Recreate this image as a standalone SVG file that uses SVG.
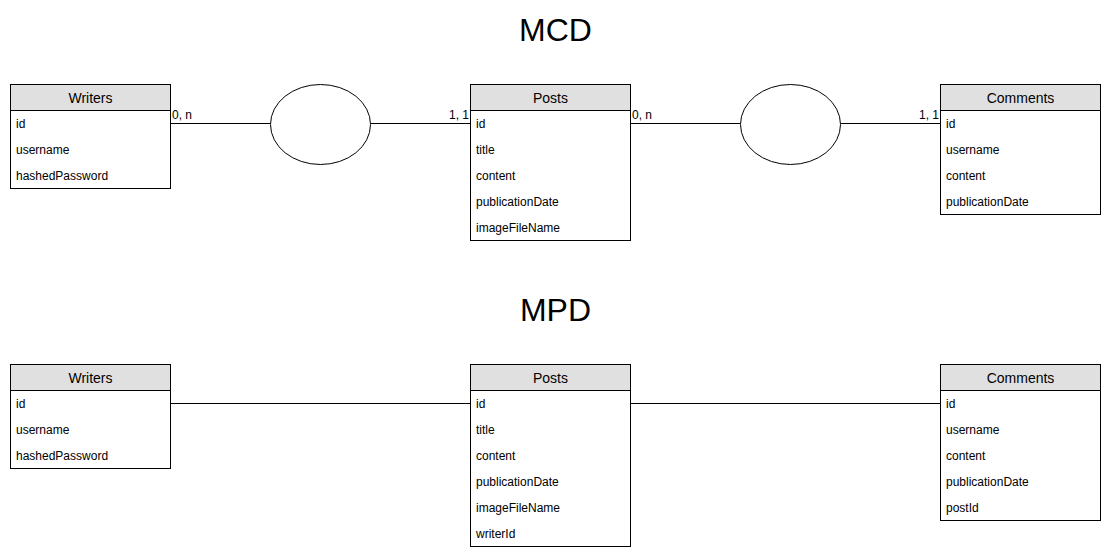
<svg xmlns="http://www.w3.org/2000/svg" width="1111" height="559" viewBox="0 0 1111 559">
<style>
.box{fill:#ffffff;stroke:#000000;stroke-width:1}
.hdr{fill:#e0e0e0;stroke:#000000;stroke-width:1}
.ht{font-family:"Liberation Sans",Arial,sans-serif;font-size:14px;text-anchor:middle;fill:#000}
.rt{font-family:"Liberation Sans",Arial,sans-serif;font-size:12px;fill:#000}
.lbl{font-family:"Liberation Sans",Arial,sans-serif;font-size:12px;fill:#000}
.title{font-family:"Liberation Sans",Arial,sans-serif;font-size:32px;text-anchor:middle;fill:#000}
.ln{stroke:#000;stroke-width:1;fill:none}
.ell{fill:#fff;stroke:#000;stroke-width:1}
</style>
<rect width="1111" height="559" fill="#ffffff"/>
<text class="title" x="555.5" y="41">MCD</text>
<text class="title" x="555.5" y="321">MPD</text>
<g id="connectors">
<line class="ln" x1="170.5" y1="123.5" x2="270.5" y2="123.5"/>
<line class="ln" x1="370.5" y1="123.5" x2="470.5" y2="123.5"/>
<line class="ln" x1="630.5" y1="123.5" x2="740.5" y2="123.5"/>
<line class="ln" x1="840.5" y1="123.5" x2="940.5" y2="123.5"/>
<text class="lbl" x="172" y="119">0, n</text>
<text class="lbl" x="469" y="119" text-anchor="end">1, 1</text>
<text class="lbl" x="632" y="119">0, n</text>
<text class="lbl" x="939" y="119" text-anchor="end">1, 1</text>
<line class="ln" x1="170.5" y1="403.5" x2="470.5" y2="403.5"/>
<line class="ln" x1="630.5" y1="403.5" x2="940.5" y2="403.5"/>
</g>
<g id="assoc1"><ellipse class="ell" cx="320.5" cy="124.5" rx="50" ry="40"/></g>
<g id="assoc2"><ellipse class="ell" cx="790.5" cy="124.5" rx="50" ry="40"/></g>
<g id="mcd-writers">
<rect class="box" x="10.5" y="84.5" width="160" height="104"/>
<rect class="hdr" x="10.5" y="84.5" width="160" height="26"/>
<text class="ht" x="90.5" y="103">Writers</text>
<text class="rt" x="16" y="128">id</text>
<text class="rt" x="16" y="154">username</text>
<text class="rt" x="16" y="180">hashedPassword</text>
</g>
<g id="mcd-posts">
<rect class="box" x="470.5" y="84.5" width="160" height="156"/>
<rect class="hdr" x="470.5" y="84.5" width="160" height="26"/>
<text class="ht" x="550.5" y="103">Posts</text>
<text class="rt" x="476" y="128">id</text>
<text class="rt" x="476" y="154">title</text>
<text class="rt" x="476" y="180">content</text>
<text class="rt" x="476" y="206">publicationDate</text>
<text class="rt" x="476" y="232">imageFileName</text>
</g>
<g id="mcd-comments">
<rect class="box" x="940.5" y="84.5" width="160" height="130"/>
<rect class="hdr" x="940.5" y="84.5" width="160" height="26"/>
<text class="ht" x="1020.5" y="103">Comments</text>
<text class="rt" x="946" y="128">id</text>
<text class="rt" x="946" y="154">username</text>
<text class="rt" x="946" y="180">content</text>
<text class="rt" x="946" y="206">publicationDate</text>
</g>
<g id="mpd-writers">
<rect class="box" x="10.5" y="364.5" width="160" height="104"/>
<rect class="hdr" x="10.5" y="364.5" width="160" height="26"/>
<text class="ht" x="90.5" y="383">Writers</text>
<text class="rt" x="16" y="408">id</text>
<text class="rt" x="16" y="434">username</text>
<text class="rt" x="16" y="460">hashedPassword</text>
</g>
<g id="mpd-posts">
<rect class="box" x="470.5" y="364.5" width="160" height="182"/>
<rect class="hdr" x="470.5" y="364.5" width="160" height="26"/>
<text class="ht" x="550.5" y="383">Posts</text>
<text class="rt" x="476" y="408">id</text>
<text class="rt" x="476" y="434">title</text>
<text class="rt" x="476" y="460">content</text>
<text class="rt" x="476" y="486">publicationDate</text>
<text class="rt" x="476" y="512">imageFileName</text>
<text class="rt" x="476" y="538">writerId</text>
</g>
<g id="mpd-comments">
<rect class="box" x="940.5" y="364.5" width="160" height="156"/>
<rect class="hdr" x="940.5" y="364.5" width="160" height="26"/>
<text class="ht" x="1020.5" y="383">Comments</text>
<text class="rt" x="946" y="408">id</text>
<text class="rt" x="946" y="434">username</text>
<text class="rt" x="946" y="460">content</text>
<text class="rt" x="946" y="486">publicationDate</text>
<text class="rt" x="946" y="512">postId</text>
</g>
</svg>
